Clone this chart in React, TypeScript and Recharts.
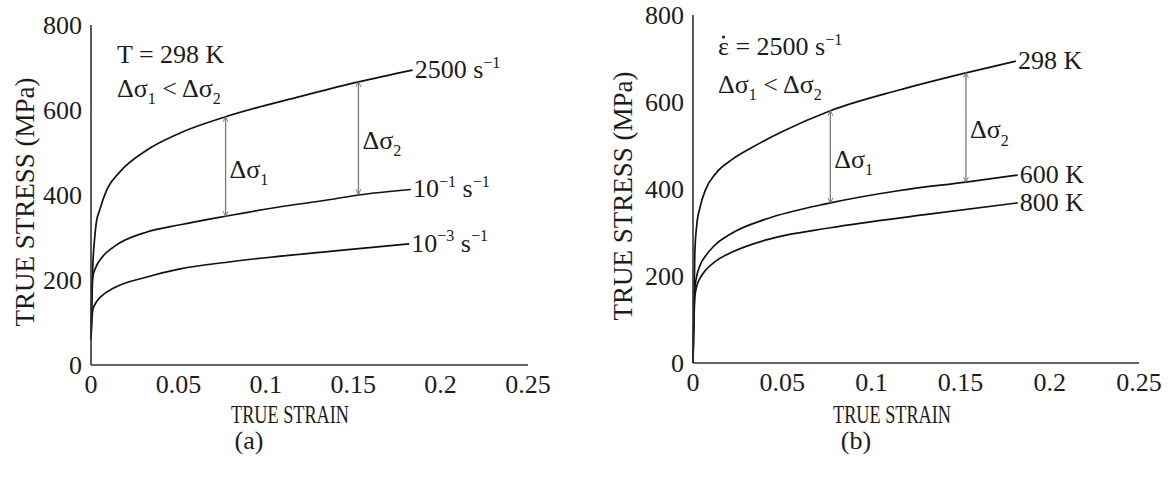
import React from "react";
import { LineChart, Line, XAxis, YAxis, ReferenceLine } from "recharts";

const FONT = "'Liberation Serif', 'Times New Roman', serif";
const INK = "#1c1c1c";
const ARROW = "#7a7a7a";

const strainTicks = [0, 0.05, 0.1, 0.15, 0.2, 0.25];
const stressTicks = [0, 200, 400, 600, 800];

// (a) T = 298 K, three strain rates
const strainA2500 = [0, 0.001, 0.002, 0.003, 0.005, 0.009, 0.016, 0.032, 0.051, 0.077, 0.12, 0.153, 0.184];
const stressA2500 = [60, 230, 294, 334, 365, 412, 452, 506, 546, 584, 632, 666, 694];
const strainA1e1 = [0, 0.0005, 0.001, 0.003, 0.006, 0.013, 0.032, 0.051, 0.077, 0.105, 0.138, 0.153, 0.183];
const stressA1e1 = [60, 180, 207, 232, 252, 278, 313, 330, 350, 370, 390, 400, 413];
const strainA1e3 = [0, 0.001, 0.003, 0.006, 0.013, 0.032, 0.051, 0.08, 0.138, 0.182];
const stressA1e3 = [60, 129, 148, 162, 181, 207, 226, 243, 268, 285];

// (b) strain rate 2500 /s, three temperatures
const strainB298 = [0, 0.001, 0.002, 0.004, 0.007, 0.013, 0.022, 0.032, 0.049, 0.077, 0.115, 0.153, 0.181];
const stressB298 = [0, 250, 313, 359, 398, 437, 468, 493, 530, 580, 627, 667, 694];
const strainB600 = [0, 0.001, 0.002, 0.004, 0.007, 0.012, 0.022, 0.041, 0.077, 0.115, 0.153, 0.182];
const stressB600 = [0, 170, 198, 225, 246, 270, 299, 331, 368, 396, 416, 432];
const strainB800 = [0, 0.001, 0.002, 0.004, 0.007, 0.012, 0.022, 0.041, 0.077, 0.13, 0.182];
const stressB800 = [0, 150, 175, 195, 213, 232, 255, 283, 311, 341, 368];

// delta-sigma arrows: strain, top stress, bottom stress
const arrowA1 = [0.077, 584, 350];
const arrowA2 = [0.153, 666, 402];
const arrowB1 = [0.077, 580, 368];
const arrowB2 = [0.153, 667, 416];

const toRows = (xs: number[], ys: number[]) => xs.map((e, i) => ({ e, s: ys[i] }));

type Part = { t: string; v?: "sup" | "sub" };

function spans(parts: Part[], size: number) {
  let shift = 0;
  return parts.map((p, i) => {
    const target = p.v === "sup" ? -size * 0.4 : p.v === "sub" ? size * 0.28 : 0;
    const dy = target - shift;
    shift = target;
    return (
      <tspan key={i} dy={dy} fontSize={p.v ? size * 0.62 : size}>
        {p.t}
      </tspan>
    );
  });
}

const dsig = (n: string): Part[] => [{ t: "\u0394\u03c3" }, { t: n, v: "sub" }];

const endLabel = (parts: Part[], count: number) => (props: any) => {
  const { x, y, index } = props;
  if (index !== count - 1) return null;
  return (
    <text
      key="end"
      x={x + 2}
      y={y + 8}
      fontFamily={FONT}
      fontSize={26}
      fill={INK}
      style={{ whiteSpace: "pre" }}
    >
      {spans(parts, 26)}
    </text>
  );
};

const arrowShape = (label: Part[]) => (props: any) => {
  const { x1, y1, y2 } = props;
  const top = Math.min(y1, y2);
  const bot = Math.max(y1, y2);
  const h = 5;
  const w = 2.5;
  return (
    <g>
      <line x1={x1} y1={top} x2={x1} y2={bot} stroke={ARROW} strokeWidth={1.3} />
      <path d={`M${x1 - w},${top + h}L${x1},${top}L${x1 + w},${top + h}`} fill="none" stroke={ARROW} strokeWidth={1} />
      <path d={`M${x1 - w},${bot - h}L${x1},${bot}L${x1 + w},${bot - h}`} fill="none" stroke={ARROW} strokeWidth={1} />
      <text x={x1 + 4} y={(top + bot) / 2 + 11} fontFamily={FONT} fontSize={26} fill={INK}>
        {spans(label, 26)}
      </text>
    </g>
  );
};

type Series = { xs: number[]; ys: number[]; label: Part[] };

const tickStyle = { fontFamily: FONT, fontSize: 26, fill: INK };

function Panel({
  series,
  arrows,
  width,
  height,
  margin,
  yWidth,
}: {
  series: Series[];
  arrows: number[][];
  width: number;
  height: number;
  margin: { top: number; right: number; bottom: number; left: number };
  yWidth: number;
}) {
  return (
    <LineChart width={width} height={height} margin={margin}>
      <XAxis
        type="number"
        dataKey="e"
        domain={[0, 0.25]}
        ticks={strainTicks}
        interval={0}
        tickFormatter={(v: number) => String(v)}
        tick={tickStyle}
        tickLine={false}
        tickSize={0}
        tickMargin={10}
        height={30}
        axisLine={{ stroke: "#333", strokeWidth: 1.6 }}
      />
      <YAxis
        type="number"
        domain={[0, 800]}
        ticks={stressTicks}
        interval={0}
        tick={tickStyle}
        tickLine={false}
        tickSize={0}
        tickMargin={9}
        width={yWidth}
        axisLine={{ stroke: "#333", strokeWidth: 1.6 }}
      />
      {series.map((sr, i) => (
        <Line
          key={i}
          data={toRows(sr.xs, sr.ys)}
          dataKey="s"
          type="monotone"
          stroke="#111"
          strokeWidth={1.7}
          dot={false}
          isAnimationActive={false}
          label={endLabel(sr.label, sr.xs.length)}
        />
      ))}
      {arrows.map((a, i) => (
        <ReferenceLine
          key={"ar" + i}
          segment={[
            { x: a[0], y: a[1] },
            { x: a[0], y: a[2] },
          ]}
          shape={arrowShape(dsig(String(i + 1)))}
        />
      ))}
    </LineChart>
  );
}

const seriesA: Series[] = [
  { xs: strainA2500, ys: stressA2500, label: [{ t: "2500 s" }, { t: "\u22121", v: "sup" }] },
  { xs: strainA1e1, ys: stressA1e1, label: [{ t: "10" }, { t: "\u22121", v: "sup" }, { t: " s" }, { t: "\u22121", v: "sup" }] },
  { xs: strainA1e3, ys: stressA1e3, label: [{ t: "10" }, { t: "\u22123", v: "sup" }, { t: " s" }, { t: "\u22121", v: "sup" }] },
];

const seriesB: Series[] = [
  { xs: strainB298, ys: stressB298, label: [{ t: "298 K" }] },
  { xs: strainB600, ys: stressB600, label: [{ t: "600 K" }] },
  { xs: strainB800, ys: stressB800, label: [{ t: "800 K" }] },
];

export default function App() {
  const txt = { fontFamily: FONT, fontSize: 26, fill: INK } as const;
  return (
    <div
      style={{
        position: "absolute",
        left: 0,
        top: 0,
        width: 1171,
        height: 480,
        background: "#fff",
        overflow: "hidden",
      }}
    >
      <div style={{ position: "absolute", left: 0, top: 0 }}>
        <Panel
          series={seriesA}
          arrows={[arrowA1, arrowA2]}
          width={560}
          height={440}
          margin={{ top: 25, right: 32, bottom: 45, left: 0 }}
          yWidth={91}
        />
      </div>
      <div style={{ position: "absolute", left: 600, top: 0 }}>
        <Panel
          series={seriesB}
          arrows={[arrowB1, arrowB2]}
          width={571}
          height={440}
          margin={{ top: 15, right: 32, bottom: 47, left: 0 }}
          yWidth={93}
        />
      </div>
      <svg
        width={1171}
        height={480}
        style={{ position: "absolute", left: 0, top: 0, pointerEvents: "none" }}
      >
        <text {...txt} x={117} y={63} style={{ whiteSpace: "pre" }}>
          T = 298 K
        </text>
        <text {...txt} x={117} y={97} style={{ whiteSpace: "pre" }}>
          {spans([...dsig("1"), { t: " < " }, ...dsig("2")], 26)}
        </text>
        <text {...txt} x={718} y={55} style={{ whiteSpace: "pre" }}>
          {spans([{ t: "\u03b5 = 2500 s" }, { t: "\u22121", v: "sup" }], 26)}
        </text>
        <circle cx={723.5} cy={37} r={1.6} fill={INK} />
        <text {...txt} x={718} y={93} style={{ whiteSpace: "pre" }}>
          {spans([...dsig("1"), { t: " < " }, ...dsig("2")], 26)}
        </text>

        <text {...txt} fontSize={27} transform="translate(25,202) rotate(-90)" textAnchor="middle" dominantBaseline="central">
          TRUE STRESS (MPa)
        </text>
        <text {...txt} fontSize={27} transform="translate(623,196) rotate(-90)" textAnchor="middle" dominantBaseline="central">
          TRUE STRESS (MPa)
        </text>

        <text {...txt} fontSize={25} x={290} y={423} textAnchor="middle" textLength={118} lengthAdjust="spacingAndGlyphs">
          TRUE STRAIN
        </text>
        <text {...txt} fontSize={25} x={892} y={423} textAnchor="middle" textLength={118} lengthAdjust="spacingAndGlyphs">
          TRUE STRAIN
        </text>

        <text {...txt} x={249} y={449} textAnchor="middle">
          (a)
        </text>
        <text {...txt} x={856} y={449} textAnchor="middle">
          (b)
        </text>
      </svg>
    </div>
  );
}
